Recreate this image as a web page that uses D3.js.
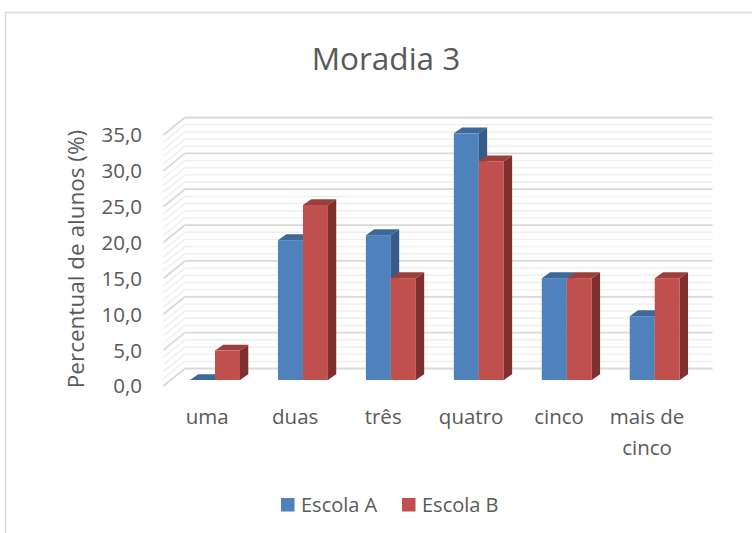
<!DOCTYPE html>
<html>
<head>
<meta charset="utf-8">
<script src="https://cdn.jsdelivr.net/npm/d3@7"></script>
<style>
  html, body { margin: 0; padding: 0; background: #fff; }
  svg { display: block; }
  text { font-family: "Open Sans", "Noto Sans", sans-serif; fill: #595959; }
</style>
</head>
<body>
<script>
const categories = ["uma", "duas", "três", "quatro", "cinco", "mais de cinco"];
const seriesNames = ["Escola A", "Escola B"];
const escolaA = [0, 19.5, 20.2, 34.4, 14.2, 8.9];
const escolaB = [4.1, 24.4, 14.2, 30.5, 14.2, 14.2];
const tickValues = [0, 5, 10, 15, 20, 25, 30, 35];
const titleText = "Moradia 3";
const yAxisTitle = "Percentual de alunos (%)";

const W = 752, H = 533;
const svg = d3.select("body").append("svg").attr("width", W).attr("height", H);

// chart border
svg.append("rect").attr("x", 5.5).attr("y", 12.5).attr("width", 800).attr("height", 600)
  .attr("fill", "#fff").attr("stroke", "#d9d9d9").attr("stroke-width", 1.5);

// projection: front plane scales, depth offset
const DX = 21.7, DY = 17.5;
const x = d3.scaleBand().domain(categories).range([163.3, 691]);
const y = d3.scaleLinear().domain([0, 35]).range([386, 135]);
const xs = d3.scaleBand().domain(seriesNames).range([0, x.bandwidth()])
  .paddingInner(0).paddingOuter(0.76).align(0.54);

const colors = {
  "Escola A": { front: "#4F81BD", top: "#3E679A", side: "#375B87" },
  "Escola B": { front: "#C0504D", top: "#9C3E3B", side: "#7E302E" }
};

// gridlines on back wall and left wall
const grid = svg.append("g");
const minor = d3.range(0, 35.01, 1);
const x0 = x.range()[0], x1 = x.range()[1];
minor.forEach(v => {
  const major = Math.abs(v % 5) < 1e-9;
  const col = major ? "#d9d9d9" : "#eeeeee";
  const sw = major ? 1.8 : 1.4;
  const yb = y(v) - DY;
  grid.append("line").attr("x1", x0 + DX).attr("x2", x1 + DX).attr("y1", yb).attr("y2", yb)
    .attr("stroke", col).attr("stroke-width", sw);
  grid.append("line").attr("x1", x0).attr("y1", y(v)).attr("x2", x0 + DX).attr("y2", yb)
    .attr("stroke", col).attr("stroke-width", sw);
});

// bars
const BF_DX = 6.2, BF_DY = 6;   // bar front offset from front plane
const BD_DX = 8.3, BD_DY = 5.8; // bar depth
const bw = xs.bandwidth();
const barsG = svg.append("g");
categories.forEach((c, i) => {
  [["Escola A", escolaA[i]], ["Escola B", escolaB[i]]].forEach(([s, v]) => {
    const col = colors[s];
    const L = x(c) + xs(s) + BF_DX;
    const R = L + bw;
    const yb = y(0) - BF_DY;
    const yt = y(v) - BF_DY;
    const g = barsG.append("g");
    g.append("path").attr("d", `M${R},${yb}L${R + BD_DX},${yb - BD_DY}L${R + BD_DX},${yt - BD_DY}L${R},${yt}Z`)
      .attr("fill", col.side);
    g.append("path").attr("d", `M${L},${yt}L${L + BD_DX},${yt - BD_DY}L${R + BD_DX},${yt - BD_DY}L${R},${yt}Z`)
      .attr("fill", col.top);
    if (yb - yt > 0.01)
      g.append("rect").attr("x", L).attr("y", yt).attr("width", bw).attr("height", yb - yt)
        .attr("fill", col.front);
  });
});

// y tick labels
const fmt = v => d3.format(".1f")(v).replace(".", ",");
svg.append("g").selectAll("text").data(tickValues).join("text")
  .attr("x", 142).attr("y", d => y(d)).attr("dy", "0.36em")
  .attr("text-anchor", "end").style("font-size", "20.5px").text(fmt);

// y axis title
svg.append("text").attr("transform", "translate(84,259) rotate(-90)")
  .attr("text-anchor", "middle").style("font-size", "22.5px").text(yAxisTitle);

// category labels (wrap)
const catG = svg.append("g");
categories.forEach(c => {
  const lines = c === "mais de cinco" ? ["mais de", "cinco"] : [c];
  const t = catG.append("text").attr("text-anchor", "middle").style("font-size", "20.5px");
  lines.forEach((ln, k) => {
    t.append("tspan").attr("x", x(c) + x.bandwidth() / 2).attr("y", 424 + k * 31).text(ln);
  });
});

// title
svg.append("text").attr("x", 386).attr("y", 70).attr("text-anchor", "middle")
  .style("font-size", "31.5px").text(titleText);

// legend
const legX = [281, 402];
seriesNames.forEach((s, i) => {
  svg.append("rect").attr("x", legX[i]).attr("y", 498).attr("width", 13.5).attr("height", 13.5)
    .attr("fill", colors[s].front);
  svg.append("text").attr("x", legX[i] + 20).attr("y", 511.5).style("font-size", "20px").text(s);
});
</script>
</body>
</html>
